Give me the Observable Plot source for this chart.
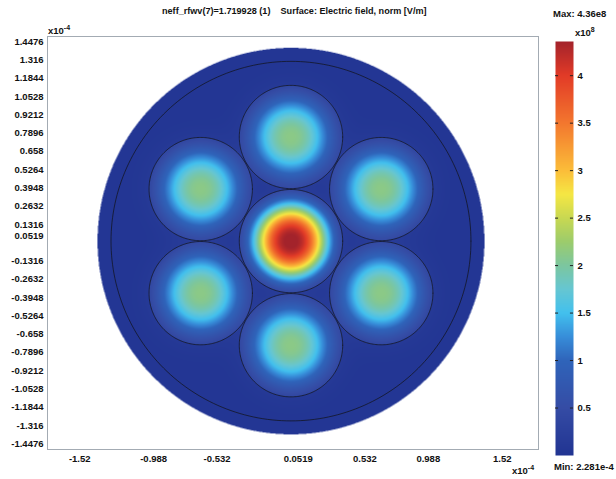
<!DOCTYPE html>
<html>
<head>
<meta charset="utf-8">
<script src="https://cdn.jsdelivr.net/npm/d3@7"></script>
<script src="https://cdn.jsdelivr.net/npm/@observablehq/plot@0.6"></script>
<style>
  html, body { margin: 0; padding: 0; background: #fff; }
  #wrap { position: relative; width: 616px; height: 479px; overflow: hidden; font-family: "Liberation Sans", Arial, sans-serif; font-weight: bold; color: #111; }
  .lbl { position: absolute; white-space: pre; font-size: 9.5px; line-height: 1; }
  .lbl sup { font-size: 7px; vertical-align: 0; position: relative; top: -4px; }
  #wrap svg { position: absolute; overflow: visible; }
</style>
</head>
<body>
<div id="wrap"></div>
<script>
// ---- text ----
const titleText = "neff_rfwv(7)=1.719928 (1)    Surface: Electric field, norm [V/m]";
const maxText = "Max: 4.36e8";
const minText = "Min: 2.281e-4";
const axisExp = "-4";
const colorExp = "8";

// ---- axes (units of 1e-4 m) ----
const xDomain = [-1.752, 1.781];
const yDomain = [-1.489, 1.486];
const xTicks = [-1.52, -0.988, -0.532, 0.0519, 0.532, 0.988, 1.52];
const yTicks = [1.4476, 1.316, 1.1844, 1.0528, 0.9212, 0.7896, 0.658, 0.5264, 0.3948, 0.2632, 0.1316, 0.0519,
                -0.1316, -0.2632, -0.3948, -0.5264, -0.658, -0.7896, -0.9212, -1.0528, -1.1844, -1.316, -1.4476];

// ---- geometry ----
const coreX = [0, 0, 0.6495, 0.6495, 0, -0.6495, -0.6495];
const coreY = [0, 0.75, 0.375, -0.375, -0.75, -0.375, 0.375];
const coreRadius = [0.372, 0.372, 0.372, 0.372, 0.372, 0.372, 0.372];
const cladRadius = [1.295, 1.392];   // inner cladding line, outer boundary
const centerY = 0.012;

// ---- field (units of 1e8 V/m) ----
const corePeak = [4.36, 2.08, 2.08, 2.08, 2.08, 2.08, 2.08];
const coreWidth = [0.262, 0.292, 0.292, 0.292, 0.292, 0.292, 0.292];
const coreShape = [2.64, 2.4, 2.4, 2.4, 2.4, 2.4, 2.4];
const backgroundField = 0.04;
const outsideFactor = 0.22;

// ---- colour map ----
const colorStops = [0, 0.5, 1.0, 1.25, 1.5, 1.75, 2.0, 2.25, 2.5, 2.75, 3.0, 3.5, 4.0, 4.36];
const colorRange = ["#213492", "#354ca5", "#2f64ba", "#378dd9", "#42c0ee", "#66c6d2", "#7cc69f", "#9ccc6c",
                    "#c8d852", "#f5e744", "#fbbd39", "#f3772e", "#e23b27", "#a3232b"];
const cbarTicks = [0.5, 1, 1.5, 2, 2.5, 3, 3.5, 4];
const cbarDomain = [0, 4.36];

function field(x, y) {
  const yy = y - centerY;
  if (Math.hypot(x, yy) > cladRadius[1]) return NaN;
  let v = backgroundField;
  for (let i = 0; i < coreX.length; i++) {
    const d = Math.hypot(x - coreX[i], yy - coreY[i]);
    const g = corePeak[i] * Math.exp(-Math.pow(d / coreWidth[i], coreShape[i]));
    v += d <= coreRadius[i] ? g : outsideFactor * g;
  }
  return v;
}

// circle outlines (cores + inner cladding)
const circles = [];
coreX.forEach((cx, i) => circles.push({cx, cy: coreY[i] + centerY, r: coreRadius[i], id: "core" + i}));
circles.push({cx: 0, cy: centerY, r: cladRadius[0], id: "clad"});
const outline = [];
for (const c of circles) {
  for (let k = 0; k <= 240; k++) {
    const t = (k / 240) * 2 * Math.PI;
    outline.push({id: c.id, x: c.cx + c.r * Math.cos(t), y: c.cy + c.r * Math.sin(t)});
  }
}

const colorScale = {type: "linear", domain: colorStops, range: colorRange, clamp: true};

const main = Plot.plot({
  width: 616, height: 479,
  marginLeft: 47, marginRight: 78, marginTop: 36, marginBottom: 30,
  style: {fontFamily: "Liberation Sans, Arial, sans-serif", fontSize: "9.5px", fontWeight: "bold", color: "#111", background: "transparent"},
  x: {domain: xDomain, ticks: xTicks, tickFormat: d => String(d), tickSize: 0, tickPadding: 6, label: null},
  y: {domain: yDomain, ticks: yTicks, tickFormat: d => String(d), tickSize: 0, tickPadding: 4, label: null},
  color: colorScale,
  marks: [
    Plot.raster({fill: field, x1: -1.4, x2: 1.4, y1: -1.4 + centerY, y2: 1.4 + centerY, pixelSize: 0.5}),
    Plot.line(outline, {x: "x", y: "y", z: "id", stroke: "#111", strokeWidth: 0.8, strokeOpacity: 0.85}),
    Plot.frame({stroke: "#a3abb3", strokeWidth: 1})
  ]
});
main.style.left = "0px"; main.style.top = "0px";

const cbar = Plot.plot({
  width: 71, height: 479,
  marginLeft: 10, marginRight: 43, marginTop: 41, marginBottom: 24,
  style: {fontFamily: "Liberation Sans, Arial, sans-serif", fontSize: "9.5px", fontWeight: "bold", color: "#111", background: "transparent"},
  x: {domain: [0, 1], axis: null},
  y: {domain: cbarDomain, ticks: cbarTicks, tickFormat: d => String(d), axis: "right", tickSize: 0, tickPadding: 4, label: null},
  color: colorScale,
  marks: [
    Plot.raster({fill: (x, y) => y, x1: 0, x2: 1, y1: cbarDomain[0], y2: cbarDomain[1], pixelSize: 1}),
    Plot.ruleY(cbarTicks, {x1: 0, x2: 0.17, stroke: "#222", strokeWidth: 1}),
    Plot.ruleY(cbarTicks, {x1: 0.83, x2: 1, stroke: "#222", strokeWidth: 1})
  ]
});
cbar.style.left = "545px"; cbar.style.top = "0px";

const wrap = document.getElementById("wrap");
wrap.appendChild(main);
wrap.appendChild(cbar);

function addLabel(html, css) {
  const d = document.createElement("div");
  d.className = "lbl";
  d.innerHTML = html;
  Object.assign(d.style, css);
  wrap.appendChild(d);
}
addLabel(titleText, {left: "162px", top: "7px", fontSize: "9.1px"});
addLabel(maxText, {left: "553px", top: "9px"});
addLabel("x10<sup>" + colorExp + "</sup>", {left: "575px", top: "28px"});
addLabel("x10<sup>" + axisExp + "</sup>", {left: "48px", top: "26px"});
addLabel("x10<sup>" + axisExp + "</sup>", {left: "512px", top: "466px"});
addLabel(minText, {left: "554px", top: "462px"});
</script>
</body>
</html>
